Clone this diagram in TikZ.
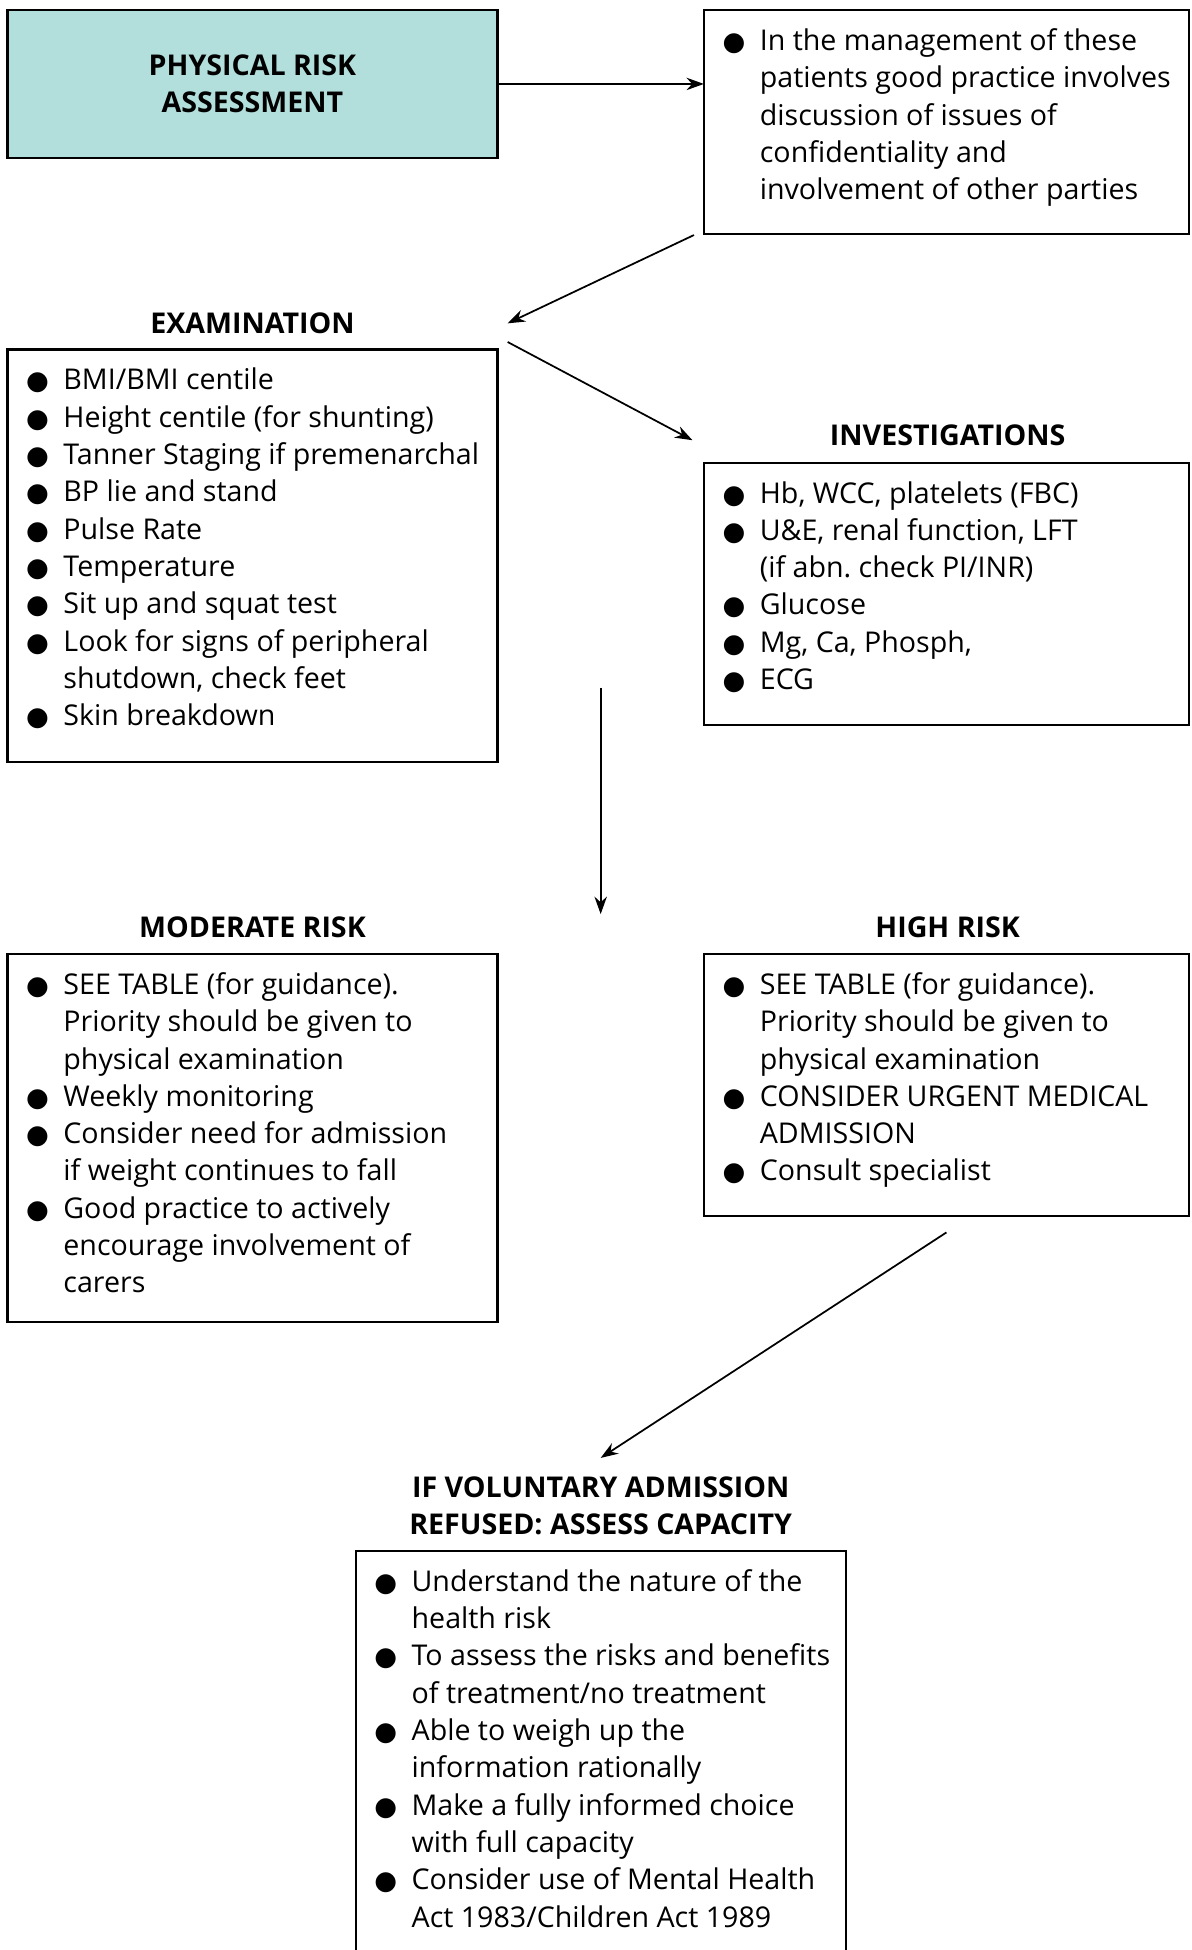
\documentclass[tikz,border=0pt]{standalone}
\usepackage{fontspec}
\setmainfont{Open Sans}
\newfontfamily\symfont{DejaVu Sans}
\usetikzlibrary{arrows.meta,calc}

\definecolor{tealfill}{RGB}{178,223,220}

% bullet item with hanging indent
\newcommand\bul{\par\noindent\hangindent=33pt\hangafter=1\makebox[33pt][l]{\hspace{3pt}{\symfont\fontsize{21}{30}\selectfont ●}}}
\newcommand\listbox[3]{\parbox[c][#2][t]{#1}{\raggedright#3}}

\begin{document}
\begin{tikzpicture}[x=1pt,y=-1pt,>={Stealth[length=14pt,width=10pt]},
  every node/.style={font=\fontsize{23}{30}\selectfont},
  main node/.style={draw,line width=1.8pt,anchor=north west,outer sep=0pt,inner xsep=12pt,inner ysep=15pt},
  head node/.style={minimum width=394pt,align=center,inner sep=0pt,font=\fontsize{23}{30}\selectfont\bfseries},
  arrow/.style={->,line width=1.4pt}]

  \clip (0,0) rectangle (958,1568);

  \node[main node,fill=tealfill,minimum width=394pt,minimum height=119pt,align=center,
    font=\fontsize{23}{30}\selectfont\bfseries] (risk) at (6,8) {PHYSICAL RISK\\ASSESSMENT};
  \node[main node] (info) at (566,8) {\listbox{366pt}{150pt}{%
    \bul In the management of these\newline patients good practice involves\newline
    discussion of issues of\newline confidentiality and\newline involvement of other parties}};

  \node[head node] (examhead) at (203,260) {EXAMINATION};
  \node[main node] (exam) at (6,281) {\listbox{370pt}{302pt}{%
    \bul BMI/BMI centile
    \bul Height centile (for shunting)
    \bul Tanner Staging if premenarchal
    \bul BP lie and stand
    \bul Pulse Rate
    \bul Temperature
    \bul Sit up and squat test
    \bul Look for signs of peripheral\newline shutdown, check feet
    \bul Skin breakdown}};

  \node[head node] (invhead) at (762,350) {INVESTIGATIONS};
  \node[main node] (inv) at (566,372) {\listbox{366pt}{181pt}{%
    \bul Hb, WCC, platelets (FBC)
    \bul U\&E, renal function, LFT\newline (if abn.\ check PI/INR)
    \bul Glucose
    \bul Mg, Ca, Phosph,
    \bul ECG}};

  \node[head node] (modhead) at (203,746) {MODERATE RISK};
  \node[main node] (mod) at (6,767) {\listbox{370pt}{266pt}{%
    \bul SEE TABLE (for guidance).\newline Priority should be given to\newline physical examination
    \bul Weekly monitoring
    \bul Consider need for admission\newline if weight continues to fall
    \bul Good practice to actively\newline encourage involvement of\newline carers}};

  \node[head node] (highhead) at (762,746) {HIGH RISK};
  \node[main node] (high) at (566,767) {\listbox{366pt}{181pt}{%
    \bul SEE TABLE (for guidance).\newline Priority should be given to\newline physical examination
    \bul CONSIDER URGENT MEDICAL\newline ADMISSION
    \bul Consult specialist}};

  \node[head node] (caphead) at (483,1211) {IF VOLUNTARY ADMISSION\\REFUSED: ASSESS CAPACITY};
  \node[main node] (cap) at (286,1247) {\listbox{370pt}{340pt}{%
    \bul Understand the nature of the\newline health risk
    \bul To assess the risks and benefits\newline of treatment/no treatment
    \bul Able to weigh up the\newline information rationally
    \bul Make a fully informed choice\newline with full capacity
    \bul Consider use of Mental Health\newline Act 1983/Children Act 1989}};

  \coordinate (split) at (483,553);
  \coordinate (join) at (483,735);

  \path[arrow]
    (risk) edge (risk.east -| info.west)
    ([xshift=-8pt,yshift=-1pt]info.south west) edge ([xshift=8pt]examhead.east)
    ([xshift=8pt,yshift=-15pt]examhead.east) edge ([xshift=-8pt,yshift=-4pt]invhead.west)
    (split) edge (join)
    ([yshift=-13pt]high.south) edge ([yshift=15pt]caphead.north);
\end{tikzpicture}
\end{document}
